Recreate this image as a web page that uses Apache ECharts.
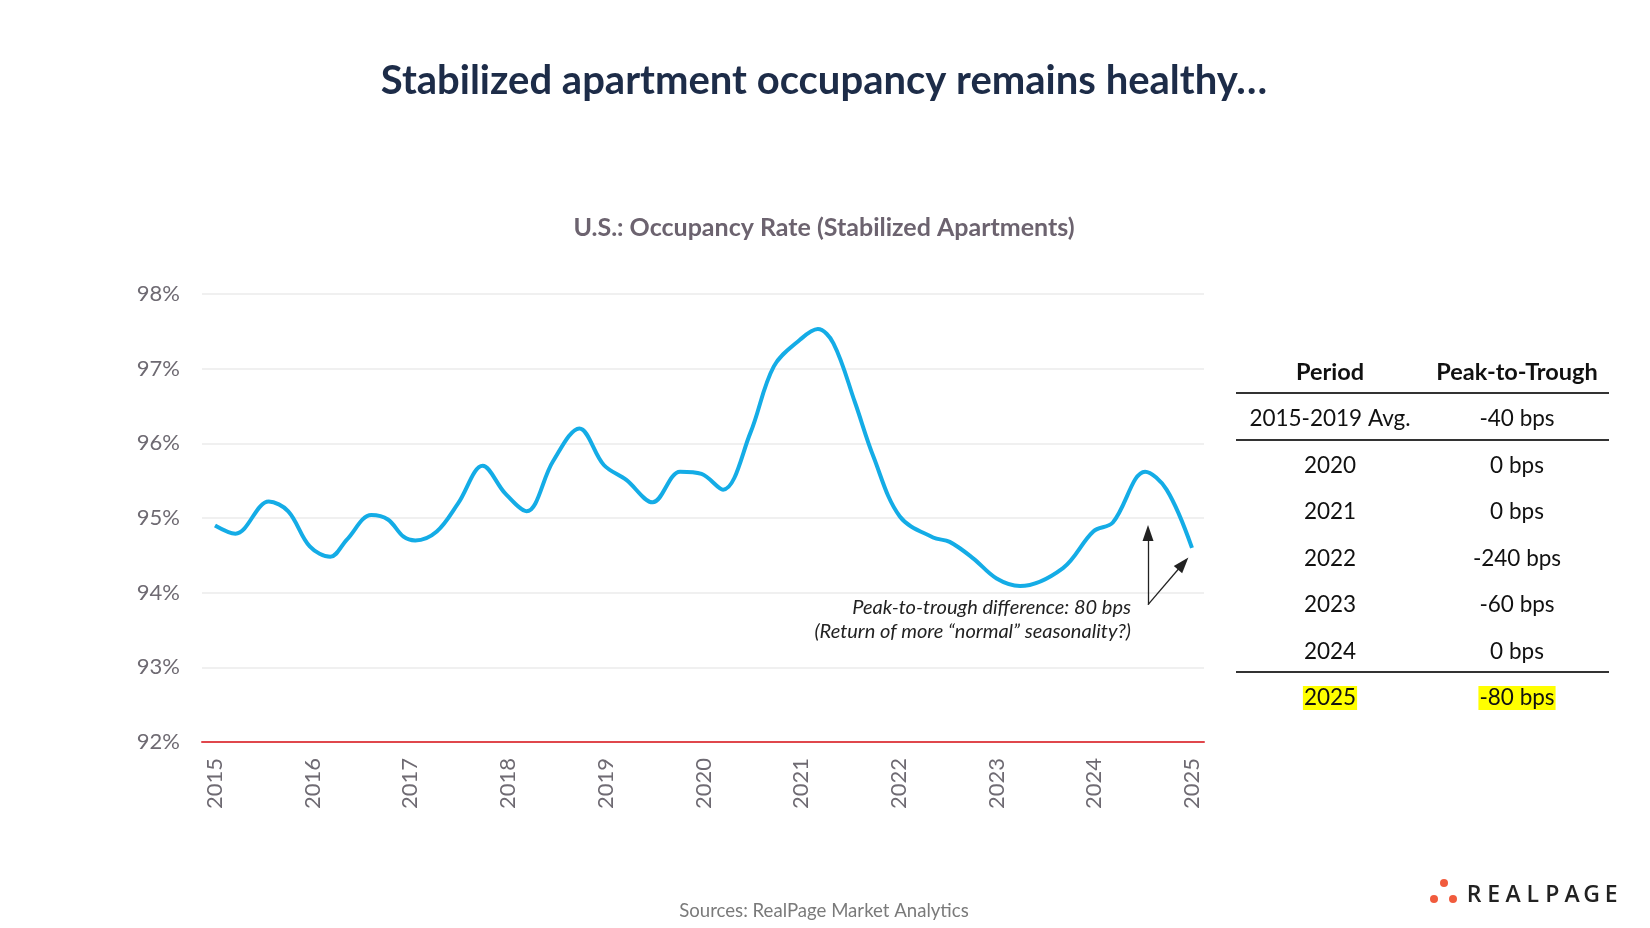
<!DOCTYPE html>
<html>
<head>
<meta charset="utf-8">
<script src="https://cdn.jsdelivr.net/npm/echarts@6/dist/echarts.min.js"></script>
<style>
html,body{margin:0;padding:0;background:#fff;}
#chart{width:1650px;height:928px;}
</style>
</head>
<body>
<div id="chart"></div>
<script>
// ---- data ----
const dates = [2015.00,2015.21,2015.55,2015.75,2015.97,2016.18,2016.35,2016.60,2016.77,2016.93,
  2017.05,2017.27,2017.49,2017.74,2017.97,2018.19,2018.46,2018.73,2018.98,2019.21,
  2019.48,2019.76,2019.98,2020.20,2020.48,2020.72,2020.99,2021.17,2021.33,2021.55,
  2021.74,2022.01,2022.35,2022.52,2022.76,2023.00,2023.24,2023.68,2023.99,2024.19,
  2024.52,2024.74,2025.00];
const occupancy = [94.90,94.79,95.22,95.09,94.62,94.48,94.71,95.04,94.98,94.75,
  94.70,94.82,95.20,95.70,95.33,95.09,95.76,96.20,95.71,95.51,
  95.21,95.62,95.59,95.38,96.14,97.03,97.39,97.53,97.34,96.55,
  95.82,95.02,94.74,94.68,94.46,94.19,94.09,94.33,94.82,94.94,
  95.62,95.38,94.60];
const yearTicks = [2015,2016,2017,2018,2019,2020,2021,2022,2023,2024,2025];
const periods = ["2015-2019 Avg.","2020","2021","2022","2023","2024","2025"];
const peakToTrough = ["-40 bps","0 bps","0 bps","-240 bps","-60 bps","0 bps","-80 bps"];
const titleText = "Stabilized apartment occupancy remains healthy…";
const subtitleText = "U.S.: Occupancy Rate (Stabilized Apartments)";
const sourceText = "Sources: RealPage Market Analytics";
const noteLines = ["Peak-to-trough difference: 80 bps", "(Return of more \u201cnormal\u201d seasonality?)"];
// arrow anchor points (data space)
const arrowBase = [2024.55, 93.84];
const arrowTipUp = [2024.55, 94.80];
const arrowTipDiag = [2024.91, 94.39];

const FONT = 'Lato, "Noto Sans", sans-serif';
const lineData = dates.map((d,i)=>[d, occupancy[i]]);

function txt(x,y,text,font,fill,align,extra){
  return Object.assign({type:'text', x:x, y:y, silent:true,
    style:{text:text, font:font, fill:fill, textAlign:align||'center', align:align||'center',
      textVerticalAlign:'middle', verticalAlign:'middle'}}, extra||{});
}

const graphics = [];
graphics.push(txt(824,81,titleText,'bold 40px '+FONT,'#1d2c48'));
graphics.push(txt(824,228,subtitleText,'bold 25px '+FONT,'#6c636f'));
graphics.push(txt(824,911,sourceText,'18.6px '+FONT,'#7a7a7a'));
graphics.push(txt(1131,608,noteLines[0],'italic 20px '+FONT,'#222','right'));
graphics.push(txt(1131,632,noteLines[1],'italic 20px '+FONT,'#222','right'));

// table
const colA = 1330, colB = 1517, tblL = 1236, tblR = 1609;
graphics.push(txt(colA,372,'Period','bold 23.5px '+FONT,'#111'));
graphics.push(txt(colB,372,'Peak-to-Trough','bold 23.5px '+FONT,'#111'));
const rowY0 = 419, rowStep = 46.5;
periods.forEach((p,i)=>{
  const y = rowY0 + i*rowStep;
  const last = i === periods.length-1;
  const bg = last ? '#ffff00' : null;
  [ [colA,p], [colB,peakToTrough[i]] ].forEach(([x,t])=>{
    const g = txt(x,y,t,'22.5px '+FONT,'#111');
    if(bg){ g.style.backgroundColor = bg; g.style.padding = [1,1,0,1]; }
    graphics.push(g);
  });
});
[393, 440, 672].forEach(y=>{
  graphics.push({type:'line', silent:true, shape:{x1:tblL,y1:y,x2:tblR,y2:y},
    style:{stroke:'#333',lineWidth:2}});
});

// logo
[[1434,899],[1444,883],[1453,899]].forEach(([cx,cy])=>{
  graphics.push({type:'circle', silent:true, shape:{cx:cx,cy:cy,r:4}, style:{fill:'#f15b3d'}});
});
'REALPAGE'.split('').forEach((ch,i)=>{
  graphics.push(txt(1474+i*19.6,895,ch,'600 23px "Open Sans", sans-serif','#222'));
});

const chart = echarts.init(document.getElementById('chart'));
chart.setOption({
  backgroundColor:'#ffffff',
  animation:false,
  grid:{left:202, right:446, top:294, bottom:186},
  xAxis:{
    type:'value', min:2014.867, max:2025.123,
    axisLine:{show:true, onZero:false, lineStyle:{color:'#e0474c', width:2}},
    axisTick:{show:false},
    splitLine:{show:false},
    axisLabel:{
      customValues: yearTicks,
      rotate:90, margin:16, color:'#6e6a72', fontSize:22, fontFamily:'Lato',
      formatter:(v)=>String(Math.round(v))
    }
  },
  yAxis:{
    type:'value', min:92, max:98, interval:1,
    axisLine:{show:false}, axisTick:{show:false},
    splitLine:{lineStyle:{color:'#f0f0f0', width:2}},
    axisLabel:{formatter:'{value}%', margin:22, color:'#6e6a72', fontSize:22, fontFamily:'Lato'}
  },
  series:[{
    type:'line', data:lineData, smooth:0.35, showSymbol:false,
    lineStyle:{color:'#14ace6', width:4}, itemStyle:{color:'#14ace6'},
    z:3,
    markLine:{
      silent:true, symbol:['none','triangle'], symbolSize:[11,16],
      label:{show:false},
      lineStyle:{color:'#222', width:1.3, type:'solid'},
      emphasis:{disabled:true},
      data:[
        [{coord:arrowBase},{coord:arrowTipUp}],
        [{coord:arrowBase},{coord:arrowTipDiag}]
      ]
    }
  }],
  graphic:graphics
});
</script>
</body>
</html>
